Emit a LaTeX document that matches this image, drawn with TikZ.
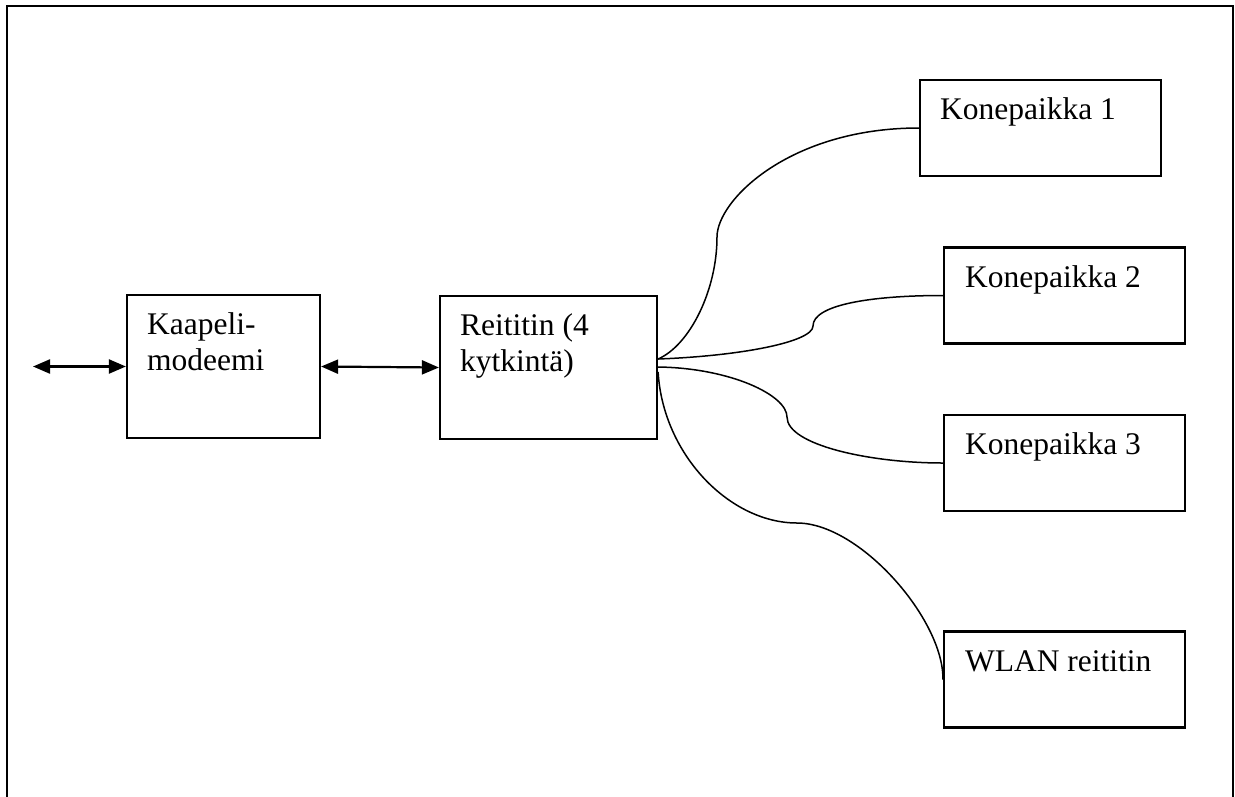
\documentclass[tikz,border=0pt]{standalone}
\usepackage{fontspec}
\setmainfont{Liberation Serif}
\usetikzlibrary{positioning,calc,arrows.meta}

\tikzset{
  devbox/.style={draw, line width=2.2pt, inner sep=0pt},
  devtext/.style={font=\fontsize{31.5}{36}\selectfont, align=left, inner sep=0pt, anchor=base west},
  link/.style={line width=2.2pt, {Triangle[length=17pt,width=14pt]}-{Triangle[length=17pt,width=14pt]}},
  cable/.style={line width=1.5pt}
}

\begin{document}
\begin{tikzpicture}[x=1pt,y=-1pt]
    \useasboundingbox (0,0) rectangle (1235,796);
    % Frame
    \draw[line width=2.2pt] (7,810) -- (7,6) -- (1233,6) -- (1233,810);
    % Modem and router (two lines, base is the last line)
    \node[devbox, minimum width=193pt, minimum height=143pt] (modem) at (223.5,366.5) {};
    \node[devtext] at ($(modem.north west)+(21,77)$) {Kaapeli-\\modeemi};
    \node[devbox, minimum width=217pt, minimum height=143pt] (router) at (548.5,367.5) {};
    \node[devtext] at ($(router.north west)+(21,77)$) {Reititin (4\\kytkintä)};
    % Workstations
    \node[devbox, minimum width=241pt, minimum height=96pt] (kp1) at (1040.5,128) {};
    \node[devtext] at ($(kp1.north west)+(21,41)$) {Konepaikka 1};
    \node[devbox, minimum width=241pt, minimum height=96pt] (kp2) at (1064.5,295.5) {};
    \node[devtext] at ($(kp2.north west)+(22,41)$) {Konepaikka 2};
    \node[devbox, minimum width=241pt, minimum height=96pt] (kp3) at (1064.5,463) {};
    \node[devtext] at ($(kp3.north west)+(22,41)$) {Konepaikka 3};
    \node[devbox, minimum width=241pt, minimum height=96pt] (wlan) at (1064.5,679.5) {};
    \node[devtext] at ($(wlan.north west)+(22,41)$) {WLAN reititin};
    % Arrows
    \coordinate (net) at (33,366.5);
    \draw[link] (net) -- (modem.west);
    \draw[link] (modem.east) -- (router.west);
    % Cables
    \draw[cable] ([yshift=8.5pt]router.east) .. controls (690,345) and (717,290) .. (717,237)
        .. controls (717,200) and (790,128) .. (kp1.west);
    \draw[cable] ([yshift=8.5pt]router.east) .. controls (740,356) and (813,342) .. (813,326)
        .. controls (813,305) and (870,295.5) .. (kp2.west);
    \draw[cable] ([yshift=0.5pt]router.east) .. controls (730,368) and (787,395) .. (787,417)
        .. controls (787,445) and (870,463) .. (kp3.west);
    \draw[cable] ([yshift=-4.5pt]router.east) .. controls (663,455) and (730,523) .. (797,523)
        .. controls (860,523) and (944,620) .. (wlan.west);
\end{tikzpicture}
\end{document}
